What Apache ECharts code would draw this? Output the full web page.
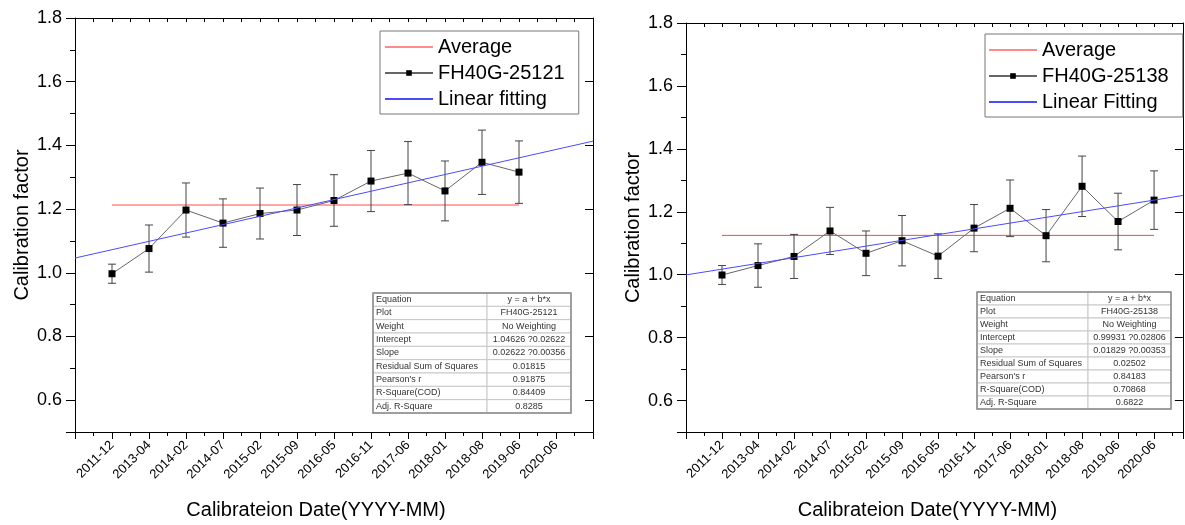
<!DOCTYPE html>
<html>
<head>
<meta charset="utf-8">
<script src="https://cdn.jsdelivr.net/npm/echarts@6/dist/echarts.min.js"></script>
<style>
  html, body { margin: 0; padding: 0; background: #fff; }
  #chart { width: 1185px; height: 525px; }
</style>
</head>
<body>
<div id="chart"></div>
<script>
  // tick labels for x positions 1..13
  const dateLabels = ['2011-12', '2013-04', '2014-02', '2014-07', '2015-02', '2015-09', '2016-05',
    '2016-11', '2017-06', '2018-01', '2018-08', '2019-06', '2020-06'];

  // left chart: FH40G-25121
  const valuesLeft = [0.997, 1.076, 1.197, 1.156, 1.186, 1.197, 1.227, 1.288, 1.313, 1.257, 1.347, 1.316];
  const errorsLeft = [0.03, 0.074, 0.085, 0.076, 0.08, 0.08, 0.081, 0.096, 0.099, 0.094, 0.101, 0.098];
  const averageLeft = 1.213;
  const fitLeft = { a: 1.04626, b: 0.02622 };

  // right chart: FH40G-25138
  const valuesRight = [0.999, 1.029, 1.058, 1.139, 1.068, 1.108, 1.059, 1.148, 1.211, 1.124, 1.281, 1.169, 1.237];
  const errorsRight = [0.03, 0.069, 0.07, 0.075, 0.071, 0.08, 0.071, 0.075, 0.09, 0.083, 0.096, 0.09, 0.093];
  const averageRight = 1.125;
  const fitRight = { a: 0.99931, b: 0.01829 };

  const statNames = ['Equation', 'Plot', 'Weight', 'Intercept', 'Slope', 'Residual Sum of Squares',
    "Pearson's r", 'R-Square(COD)', 'Adj. R-Square'];
  const statsLeft = ['y = a + b*x', 'FH40G-25121', 'No Weighting', '1.04626 ?0.02622', '0.02622 ?0.00356',
    '0.01815', '0.91875', '0.84409', '0.8285'];
  const statsRight = ['y = a + b*x', 'FH40G-25138', 'No Weighting', '0.99931 ?0.02806', '0.01829 ?0.00353',
    '0.02502', '0.84183', '0.70868', '0.6822'];

  const FONT = 'Liberation Sans, Arial, sans-serif';
  const black = '#000';

  function makeXAxes(gridIndex, max, namePad) {
    return [
      {
        type: 'value', gridIndex, position: 'bottom', min: 0, max, interval: 1,
        axisLine: { onZero: false, lineStyle: { color: black, width: 1 } },
        axisTick: { length: 7, lineStyle: { color: black } },
        axisLabel: {
          rotate: 45, fontSize: 13, color: black, fontFamily: FONT, margin: 11,
          formatter: v => (Number.isInteger(v) && dateLabels[v - 1]) ? dateLabels[v - 1] : ''
        },
        splitLine: { show: false },
        name: 'Calibrateion Date(YYYY-MM)', nameLocation: 'middle', nameGap: 68,
        nameTextStyle: { fontSize: 20, color: black, fontFamily: FONT, padding: namePad }
      },
      {
        type: 'value', gridIndex, position: 'bottom', min: 0, max, interval: 0.5,
        axisLine: { show: false }, axisTick: { length: 4, lineStyle: { color: black } },
        axisLabel: { show: false }, splitLine: { show: false }
      },
      {
        type: 'value', gridIndex, position: 'top', min: 0, max, interval: 0.5,
        axisLine: { onZero: false, lineStyle: { color: black, width: 1 } },
        axisTick: { inside: true, length: 4, lineStyle: { color: black } },
        axisLabel: { show: false }, splitLine: { show: false }
      }
    ];
  }

  function makeYAxes(gridIndex) {
    return [
      {
        type: 'value', gridIndex, position: 'left', min: 0.5, max: 1.8, splitNumber: 6,
        axisLine: { show: true, onZero: false, lineStyle: { color: black, width: 1 } },
        axisTick: { show: true, length: 9, lineStyle: { color: black } },
        axisLabel: {
          fontSize: 18, color: black, fontFamily: FONT, margin: 13,
          formatter: v => (Math.round(v * 10) % 2 === 0) ? v.toFixed(1) : ''
        },
        splitLine: { show: false },
        name: 'Calibration factor', nameLocation: 'middle', nameGap: 43,
        nameTextStyle: { fontSize: 20, color: black, fontFamily: FONT }
      },
      {
        type: 'value', gridIndex, position: 'left', min: 0.5, max: 1.8, interval: 0.1,
        axisLine: { show: false }, axisTick: { show: true, length: 5, lineStyle: { color: black } },
        axisLabel: { show: false }, splitLine: { show: false }
      },
      {
        type: 'value', gridIndex, position: 'right', min: 0.5, max: 1.8, splitNumber: 6,
        axisLine: { show: true, onZero: false, lineStyle: { color: black, width: 1 } },
        axisTick: { show: true, inside: true, length: 8, lineStyle: { color: black } },
        axisLabel: { show: false }, splitLine: { show: false }
      },
      {
        type: 'value', gridIndex, position: 'right', min: 0.5, max: 1.8, interval: 0.1,
        axisLine: { show: false }, axisTick: { show: true, inside: true, length: 3, lineStyle: { color: black } },
        axisLabel: { show: false }, splitLine: { show: false }
      }
    ];
  }

  function renderErrorBar(params, api) {
    const x = api.value(0);
    const lo = api.coord([x, api.value(1)]);
    const hi = api.coord([x, api.value(2)]);
    const w = 4;
    const style = { stroke: '#444', lineWidth: 1 };
    return {
      type: 'group',
      children: [
        { type: 'line', shape: { x1: lo[0], y1: lo[1], x2: hi[0], y2: hi[1] }, style },
        { type: 'line', shape: { x1: lo[0] - w, y1: lo[1], x2: lo[0] + w, y2: lo[1] }, style },
        { type: 'line', shape: { x1: hi[0] - w, y1: hi[1], x2: hi[0] + w, y2: hi[1] }, style }
      ]
    };
  }

  function makeSeries(axisBase, values, errors, avg, fit, xMax, names, redColor, redWidth) {
    const xi = axisBase.x, yi = axisBase.y;
    return [
      {
        name: names[0], type: 'line', xAxisIndex: xi, yAxisIndex: yi, symbol: 'none',
        lineStyle: { color: redColor, width: redWidth }, itemStyle: { color: redColor },
        data: [[1, avg], [values.length, avg]], z: 2, silent: true
      },
      {
        type: 'custom', xAxisIndex: xi, yAxisIndex: yi, renderItem: renderErrorBar,
        encode: { x: 0, y: [1, 2] }, z: 3, silent: true,
        data: values.map((v, i) => [i + 1, v - errors[i], v + errors[i]])
      },
      {
        name: names[1], type: 'line', xAxisIndex: xi, yAxisIndex: yi,
        symbol: 'rect', symbolSize: 7,
        lineStyle: { color: '#666', width: 1 }, itemStyle: { color: '#000' },
        data: values.map((v, i) => [i + 1, v]), z: 4, silent: true
      },
      {
        name: names[2], type: 'line', xAxisIndex: xi, yAxisIndex: yi, symbol: 'none',
        lineStyle: { color: '#4a4aff', width: 1 }, itemStyle: { color: '#4a4aff' },
        data: [[0, fit.a], [xMax, fit.a + fit.b * xMax]], z: 5, silent: true
      }
    ];
  }

  function makeTable(x, y, w, h, split, values) {
    const rowH = h / statNames.length;
    const children = [];
    statNames.forEach((label, i) => {
      const ry = y + i * rowH;
      children.push({ type: 'rect', shape: { x, y: ry, width: split - x, height: rowH },
        style: { fill: '#fff', stroke: '#c8c8c8', lineWidth: 1 } });
      children.push({ type: 'rect', shape: { x: split, y: ry, width: x + w - split, height: rowH },
        style: { fill: '#fff', stroke: '#c8c8c8', lineWidth: 1 } });
      children.push({ type: 'text', x: x + 3, y: ry + rowH / 2,
        style: { text: label, fontSize: 9, fontFamily: FONT, fill: '#333', verticalAlign: 'middle' } });
      children.push({ type: 'text', x: (split + x + w) / 2, y: ry + rowH / 2,
        style: { text: values[i], fontSize: 9, fontFamily: FONT, fill: '#333', align: 'center', verticalAlign: 'middle' } });
    });
    children.push({ type: 'rect', shape: { x, y, width: w, height: h },
      style: { fill: 'none', stroke: '#888', lineWidth: 1.5 } });
    return { type: 'group', children, z: 10 };
  }

  // plain line icon (no marker) for legend entries
  const noMarker = { color: 'rgba(0,0,0,0)', borderWidth: 0 };

  const legendBase = {
    orient: 'vertical', itemWidth: 48, itemHeight: 7, itemGap: 6,
    borderColor: '#777', borderWidth: 1, backgroundColor: '#fff',
    textStyle: { fontSize: 20, color: black, fontFamily: FONT, lineHeight: 20 },
    selectedMode: false, z: 10
  };

  const option = {
    animation: false,
    grid: [
      { left: 75, top: 18, width: 518, height: 419 },
      { left: 686, top: 23, width: 497, height: 409 }
    ],
    legend: [
      Object.assign({}, legendBase, { left: 380, top: 31, padding: [6, 14, 5, 4],
        data: [{ name: 'Average', itemStyle: noMarker }, 'FH40G-25121',
          { name: 'Linear fitting', itemStyle: noMarker }] }),
      Object.assign({}, legendBase, { left: 985, top: 34, padding: [6, 14, 5, 3],
        data: [{ name: 'Average', itemStyle: noMarker }, 'FH40G-25138',
          { name: 'Linear Fitting', itemStyle: noMarker }] })
    ],
    xAxis: [].concat(makeXAxes(0, 14, [0, 36, 0, 0]), makeXAxes(1, 13.8, [0, 14, 0, 0])),
    yAxis: [].concat(makeYAxes(0), makeYAxes(1)),
    series: [].concat(
      makeSeries({ x: 0, y: 0 }, valuesLeft, errorsLeft, averageLeft, fitLeft, 14,
        ['Average', 'FH40G-25121', 'Linear fitting'], '#ff8a8a', 1.5),
      makeSeries({ x: 3, y: 4 }, valuesRight, errorsRight, averageRight, fitRight, 13.8,
        ['Average', 'FH40G-25138', 'Linear Fitting'], '#ff4444', 1)
    ),
    graphic: [
      makeTable(373, 293, 198, 120, 487, statsLeft),
      makeTable(977, 292, 194, 117, 1088, statsRight)
    ]
  };

  const chart = echarts.init(document.getElementById('chart'));
  chart.setOption(option);
</script>
</body>
</html>
